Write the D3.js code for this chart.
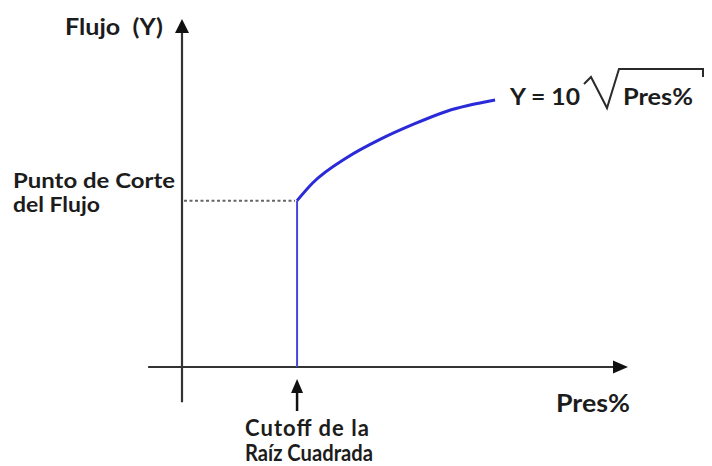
<!DOCTYPE html>
<html>
<head>
<meta charset="utf-8">
<script src="https://cdn.jsdelivr.net/npm/d3@7"></script>
<style>
  body { margin: 0; background: #fff; }
  text { font-family: Lato, "Open Sans", sans-serif; font-weight: bold; fill: #1c1c1c; }
</style>
</head>
<body>
<div id="chart"></div>
<script>
// values (Pres% on x, Flujo on y, both 0-100 units)
const cutoffPres = 25.8;
const cutoffFlow = 47.8;
const curvePres = [25.8, 29.4, 37.0, 44.4, 51.8, 59.4, 70.2];
const curveFlow = [47.8, 53.0, 60.2, 65.4, 69.7, 73.5, 76.7];
const yTitle = "Flujo  (Y)";
const xTitle = "Pres%";
const cutLabel = ["Punto de Corte", "del Flujo"];
const rootLabel = ["Cutoff de la", "Raíz Cuadrada"];
const formula = ["Y = 10", "Pres%"];

const width = 712;
const height = 466;

const svg = d3.select("#chart")
  .append("svg")
  .attr("width", width)
  .attr("height", height);

const x = d3.scaleLinear().domain([0, 100]).range([182, 628]);
const y = d3.scaleLinear().domain([0, 100]).range([367, 19]);

const axisColor = "#333";

// axes
svg.append("line")
  .attr("x1", x(-7.6)).attr("x2", x(97))
  .attr("y1", y(0)).attr("y2", y(0))
  .attr("stroke", axisColor).attr("stroke-width", 2.2);
svg.append("line")
  .attr("x1", x(0)).attr("x2", x(0))
  .attr("y1", y(-10.1)).attr("y2", y(96))
  .attr("stroke", axisColor).attr("stroke-width", 2.2);

// arrow heads
svg.append("path")
  .attr("d", `M${x(100)},${y(0)} L${x(100) - 15},${y(0) - 6.5} L${x(100) - 15},${y(0) + 6.5} Z`)
  .attr("fill", "#111");
svg.append("path")
  .attr("d", `M${x(0)},${y(100)} L${x(0) - 7},${y(100) + 14} L${x(0) + 7},${y(100) + 14} Z`)
  .attr("fill", "#111");

// dotted guide to the y axis
svg.append("line")
  .attr("x1", x(0) + 2).attr("x2", x(cutoffPres) - 2)
  .attr("y1", y(cutoffFlow)).attr("y2", y(cutoffFlow))
  .attr("stroke", "#666").attr("stroke-width", 2)
  .attr("stroke-dasharray", "3,2.5");

// vertical jump at the cutoff
svg.append("line")
  .attr("x1", x(cutoffPres)).attr("x2", x(cutoffPres))
  .attr("y1", y(0)).attr("y2", y(cutoffFlow))
  .attr("stroke", "#4646dc").attr("stroke-width", 2);

// square root curve
const pts = curvePres.map((p, i) => [p, curveFlow[i]]);
svg.append("path")
  .datum(pts)
  .attr("d", d3.line().x(d => x(d[0])).y(d => y(d[1])).curve(d3.curveMonotoneX))
  .attr("fill", "none")
  .attr("stroke", "#2a2ad8")
  .attr("stroke-width", 3);

// arrow under the cutoff
const ax = x(cutoffPres);
svg.append("line")
  .attr("x1", ax).attr("x2", ax)
  .attr("y1", 388).attr("y2", 411)
  .attr("stroke", "#111").attr("stroke-width", 2.5);
svg.append("path")
  .attr("d", `M${ax},379 L${ax - 6},393 L${ax + 6},393 Z`)
  .attr("fill", "#111");

// texts, squeezed to the widths of the original lettering
function label(t, px, py, size, len, adjust) {
  return svg.append("text")
    .attr("x", px).attr("y", py)
    .attr("font-size", size)
    .attr("textLength", len)
    .attr("lengthAdjust", adjust || "spacingAndGlyphs")
    .style("white-space", "pre")
    .text(t);
}

label(yTitle, 65, 35, 23, 98);
label(xTitle, 556, 412, 25, 74);

label(cutLabel[0], 13, 188, 21, 162);
label(cutLabel[1], 13, 212, 21, 87);

label(rootLabel[0], 245, 436, 22, 124, "spacing");
label(rootLabel[1], 245, 461, 22, 128);

label(formula[0], 510, 105, 22, 70);
label(formula[1], 623, 105, 22, 70);

// radical sign
svg.append("path")
  .attr("d", "M584,84 L591,77 L607,108 L619,69 L703,69 L703,77")
  .attr("fill", "none")
  .attr("stroke", "#2a2a2a")
  .attr("stroke-width", 2);
</script>
</body>
</html>
